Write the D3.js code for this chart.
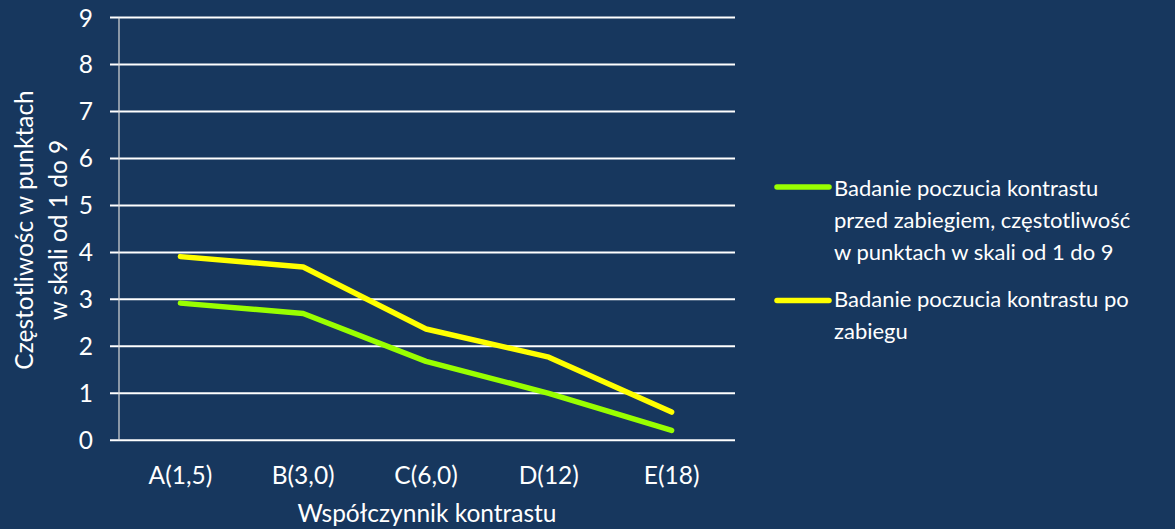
<!DOCTYPE html>
<html><head><meta charset="utf-8">
<script src="https://cdn.jsdelivr.net/npm/d3@7"></script>
<style>
html,body{margin:0;padding:0;background:#17375E;}
svg{display:block;font-family:"Lato","Open Sans",sans-serif;}
</style></head>
<body>
<svg id="c" width="1175" height="529"></svg>
<script>
const categories = ["A(1,5)","B(3,0)","C(6,0)","D(12)","E(18)"];
const seriesNames = ["Badanie poczucia kontrastu przed zabiegiem, częstotliwość w punktach w skali od 1 do 9","Badanie poczucia kontrastu po zabiegu"];
const seriesBefore = [2.92, 2.70, 1.68, 1.00, 0.21];
const seriesAfter = [3.91, 3.69, 2.37, 1.77, 0.60];
const yTicks = [0,1,2,3,4,5,6,7,8,9];
const legendLines = [["Badanie poczucia kontrastu","przed zabiegiem, częstotliwość","w punktach w skali od 1 do 9"],["Badanie poczucia kontrastu po","zabiegu"]];
const colors = ["#99FF00","#FFFF00"];

const FS = 24.5, LFS = 22;
const svg = d3.select("#c");
const pLeft = 119, pRight = 733, pTop = 17.5, pBottom = 440.3;
const x = d3.scaleBand().domain(categories).range([pLeft, pRight]);
const y = d3.scaleLinear().domain([0,9]).range([pBottom, pTop]);

// gridlines
svg.append("g").selectAll("line").data(yTicks).join("line")
  .attr("x1", 110).attr("x2", 735)
  .attr("y1", d=>y(d)).attr("y2", d=>y(d))
  .attr("stroke","#fff").attr("stroke-width",2);
// y axis line
svg.append("line").attr("x1",pLeft).attr("x2",pLeft).attr("y1",pTop).attr("y2",pBottom)
  .attr("stroke","#D9D9D9").attr("stroke-width",1.2);

// y tick labels
svg.append("g").selectAll("text").data(yTicks).join("text")
  .attr("x", 93).attr("y", d=>y(d)+9)
  .attr("text-anchor","end").attr("fill","#fff").attr("font-size",FS)
  .text(d=>d);

// x tick labels
svg.append("g").selectAll("text").data(categories).join("text")
  .attr("x", d=>x(d)+x.bandwidth()/2).attr("y", 484)
  .attr("text-anchor","middle").attr("fill","#fff").attr("font-size",FS)
  .text(d=>d);

// x title
svg.append("text").attr("x", 427).attr("y", 522)
  .attr("text-anchor","middle").attr("fill","#fff").attr("font-size",FS)
  .text("Współczynnik kontrastu");

// y title
const yt = svg.append("text").attr("transform","translate(0,230) rotate(-90)")
  .attr("text-anchor","middle").attr("fill","#fff").attr("font-size",FS);
yt.append("tspan").attr("x",0).attr("y",33).text("Częstotliwośc w punktach");
yt.append("tspan").attr("x",0).attr("y",67).text("w skali od 1 do 9");

// lines
const line = d3.line().x((d,i)=>x(categories[i])+x.bandwidth()/2).y(d=>y(d));
[seriesBefore, seriesAfter].forEach((s,i)=>{
  svg.append("path").datum(s).attr("d", line).attr("fill","none")
    .attr("stroke", colors[i]).attr("stroke-width",5.5)
    .attr("stroke-linecap","round").attr("stroke-linejoin","round");
});

// legend
const legY = [187, 300.5];
const legBase = [196, 307];
legendLines.forEach((lines,i)=>{
  svg.append("line").attr("x1",777).attr("x2",829).attr("y1",legY[i]).attr("y2",legY[i])
    .attr("stroke",colors[i]).attr("stroke-width",5.5).attr("stroke-linecap","round");
  const t = svg.append("text").attr("fill","#fff").attr("font-size",LFS);
  lines.forEach((l,j)=>{
    t.append("tspan").attr("x",834).attr("y",legBase[i]+j*32).text(l);
  });
});
</script>
</body></html>
